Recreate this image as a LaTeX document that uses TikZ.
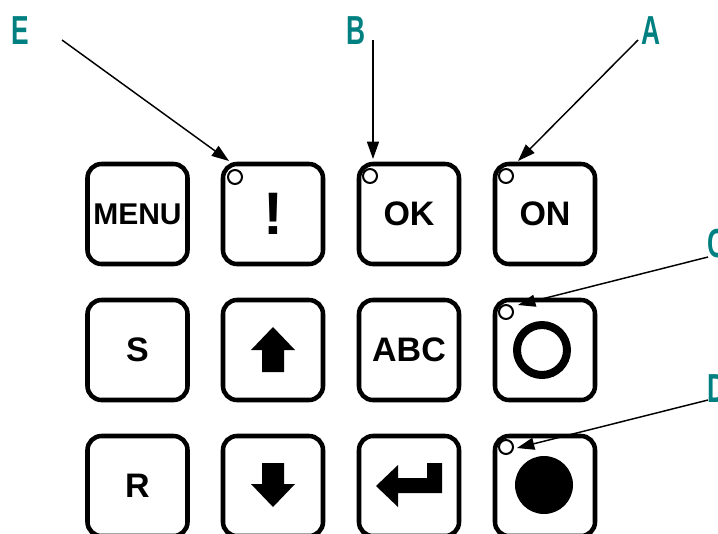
\documentclass[tikz,border=0pt]{standalone}
\usepackage{fontspec}
\setmainfont{Liberation Sans}
\usetikzlibrary{arrows.meta}
\definecolor{tagteal}{RGB}{0,128,128}

\begin{document}
\begin{tikzpicture}[x=0.75pt, y=-0.75pt,
		key/.style={draw, line width=3.4pt, rounded corners=10.5pt, minimum size=75pt, inner sep=0pt, font=\bfseries\fontsize{25.5}{25.5}\selectfont},
		lamp/.style={draw, circle, line width=1.5pt, minimum size=10.5pt, inner sep=0pt},
		tag/.style={text=tagteal, inner sep=0pt, font=\bfseries\fontsize{30.4}{30.4}\selectfont},
		pointer/.style={-{Triangle[length=13pt, width=9pt]}, line width=1.1pt}]
		\useasboundingbox (0,0) rectangle (718,533);

		\node[key, font=\bfseries\fontsize{22.5}{22.5}\selectfont] (menu) at (137.5,214) {MENU};
		\node[key, font=\bfseries\fontsize{45}{45}\selectfont] (excl) at (273,214) {!};
		\node[key] (ok) at (409,214) {OK};
		\node[key] (on) at (545,214) {ON};
		\node[key] (s) at (137.5,350) {S};
		\node[key] (up) at (273,350) {};
		\node[key] (abc) at (409,350) {ABC};
		\node[key] (ring) at (545,350) {};
		\node[key] (r) at (137.5,486) {R};
		\node[key] (down) at (273,486) {};
		\node[key] (enter) at (409,486) {};
		\node[key] (dot) at (545,486) {};

		\fill (273,327) -- (295,350) -- (284,350) -- (284,372) -- (262,372) -- (262,350) -- (251,350) -- cycle;
		\fill (262,463) -- (284,463) -- (284,484) -- (295,484) -- (273,507) -- (251,484) -- (262,484) -- cycle;
		\fill (376,486) -- (398,465) -- (398,478) -- (427,478) -- (427,463) -- (442,463) -- (442,493) -- (398,493) -- (398,507) -- cycle;
		\draw[line width=6pt] (542,350) circle (25);
		\fill (544,485) circle (29);

		\node[lamp] (lamp-excl) at (235,177) {};
		\node[lamp] (lamp-ok) at (370,176) {};
		\node[lamp] (lamp-on) at (506,176) {};
		\node[lamp] (lamp-ring) at (506,312) {};
		\node[lamp] (lamp-dot) at (506,447) {};

		\node[tag] (E) at (20,30.5) {\scalebox{0.65}[1]{E}};
		\node[tag] (B) at (356,30.5) {\scalebox{0.65}[1]{B}};
		\node[tag] (A) at (651,30.5) {\scalebox{0.65}[1]{A}};
		\node[tag, anchor=west] (C) at (707,243.5) {\scalebox{0.65}[1]{C}};
		\node[tag, anchor=west] (D) at (707,389) {\scalebox{0.65}[1]{D}};

		\coordinate (E-tail) at (62,40);
		\coordinate (B-tail) at (373,40);
		\coordinate (A-tail) at (638,40);
		\coordinate (C-tail) at (708,257);
		\coordinate (D-tail) at (708,400);
		\coordinate (E-tip) at (229,161);
		\coordinate (B-tip) at (373,159);
		\coordinate (A-tip) at (518,161);
		\coordinate (C-tip) at (518,305);
		\coordinate (D-tip) at (517,448);

		\path (E-tail) edge[pointer] (E-tip)
			(B-tail) edge[pointer] (B-tip)
			(A-tail) edge[pointer] (A-tip)
			(C-tail) edge[pointer] (C-tip)
			(D-tail) edge[pointer] (D-tip);
	\end{tikzpicture}
\end{document}
